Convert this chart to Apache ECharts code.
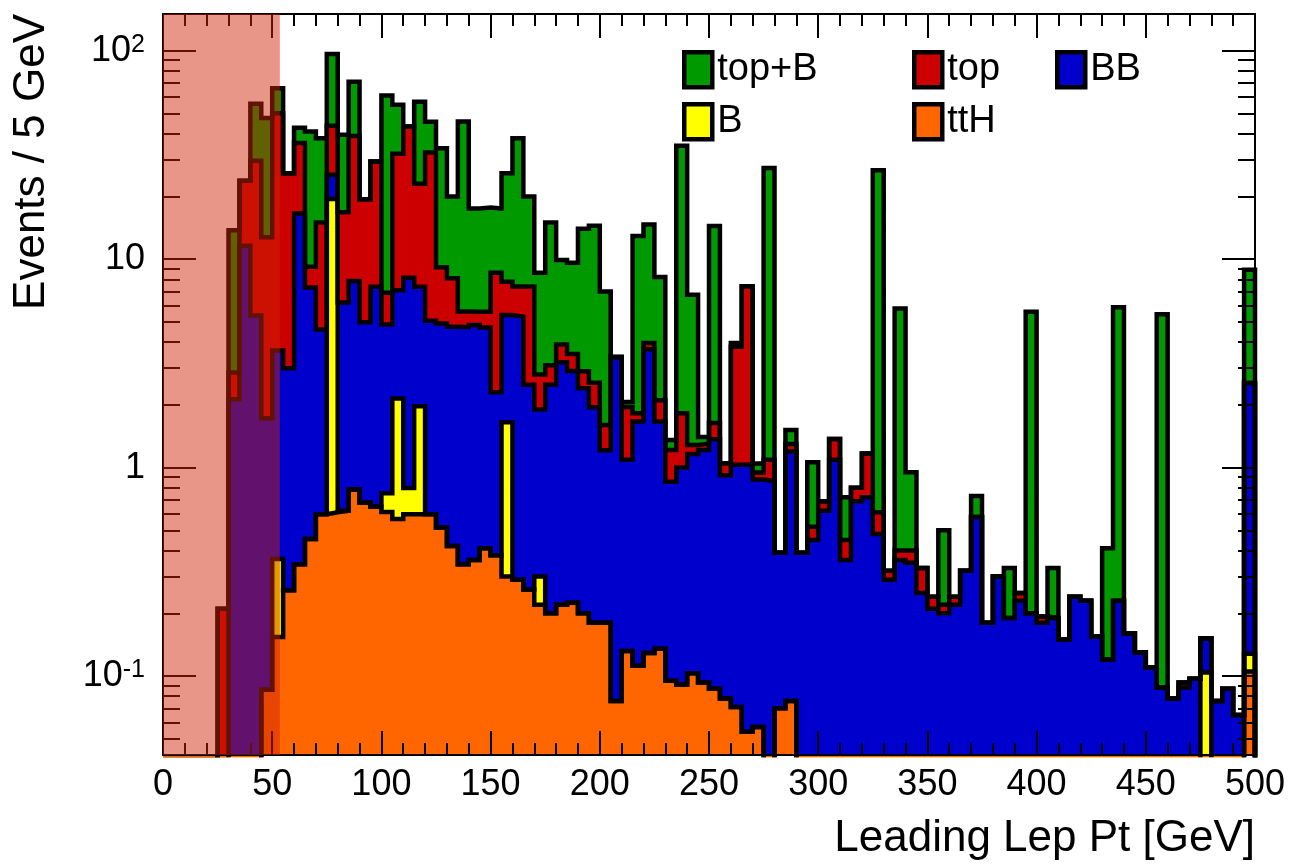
<!DOCTYPE html>
<html><head><meta charset="utf-8">
<script src="https://cdn.jsdelivr.net/npm/echarts@6/dist/echarts.min.js"></script>
<style>html,body{margin:0;padding:0;background:#fff}#c{width:1295px;height:866px}</style>
</head><body><div id="c"></div>
<script>
// ---------------- data ----------------
const NBINS = 100, BIN_WIDTH = 5;
const binLow = Array.from({length: NBINS}, (_, i) => i * BIN_WIDTH);   // bin lower edges [GeV]
const X_RANGE = [0, 500];
const Y_RANGE = [0.0418, 150];
const cutRegion = [0, 53.5];   // shaded (cut) region in GeV

const ttH = [0,0,0,0,0, 0,0,0,0,0.086,
 0.154,0.258,0.344,0.454,0.598, 0.61,0.62,0.785,0.68,0.65,
 0.613,0.566,0.598,0.598,0.598, 0.516,0.421,0.344,0.36,0.41,
 0.38,0.30,0.29,0.26,0.22, 0.20,0.22,0.225,0.20,0.18,
 0.18,0.076,0.132,0.112,0.129, 0.135,0.095,0.091,0.103,0.093,
 0.087,0.078,0.071,0.054,0.057, 0,0.07,0.076,0,0,
 0,0,0,0,0, 0,0,0,0,0,
 0,0,0,0,0, 0,0,0,0,0,
 0,0,0,0,0, 0,0,0,0,0,
 0,0,0,0,0, 0,0,0,0,0.105];

const B = [0,0,0,0,0, 0,0,0,0,0,
 0.21,0,0,0,0, 18.8,0,0,0,0,
 0.14,1.58,0.20,1.37,0, 0,0,0,0,0,
 0,1.35,0,0,0.08, 0,0,0,0,0,
 0,0,0,0,0, 0,0,0,0,0,
 0,0,0,0,0, 0,0,0,0,0,
 0,0,0,0,0, 0,0,0,0,0,
 0,0,0,0,0, 0,0,0,0,0,
 0,0,0,0,0, 0,0,0,0,0,
 0,0,0,0,0, 0.104,0,0,0,0.023];

const BB = [0,0,0,0,0, 0,2.13,11.6,5.36,1.64,
 3.28,2.74,16.2,6.85,4.0, 6.0,5.58,7.08,4.3,6.73,
 4.1,4.95,7.35,5.41,4.47, 4.4,4.32,4.37,4.47,4.29,
 1.92,3.75,5.01,2.24,1.6, 2.3,2.98,2.68,2.2,1.77,
 1.03,3.32,0.96,1.55,3.57, 1.53,0.76,0.91,1.06,1.12,
 1.28,0.84,0.96,0.98,0.82, 0.86,0.32,1.12,0.39,0.45,
 0.62,1.09,0.36,0.69,0.72, 0.48,0.29,0.36,0.35,0.25,
 0.21,0.2,0.22,0.32,0.58, 0.18,0.3,0.19,0.23,0.2,
 0.18,0.19,0.15,0.24,0.23, 0.155,0.12,0.23,0.16,0.13,
 0.11,0.088,0.078,0.088,0.097, 0.048,0.076,0.087,0.065,2.42];

const top_ = [0,0,0,0,0, 0.21,0.73,12.2,24.3,11.0,
 46.4,22.8,19.5,1.9,10.4, 18.2,10.6,31.1,14.4,22.0,
 2.04,24.9,35.2,15.6,27.4, 4.23,3.36,0.89,0.77,0.9,
 6.3,2.4,2.1,4.9,0.9, 0.6,0.7,0.6,0.5,0.6,
 0.39,0,0.86,0.16,0.26, 0.44,0.36,0.82,0.12,0.09,
 0.27,0.13,2.77,6.37,0.07, 0.23,0,0.1,0,0.07,
 0.07,0.28,0.09,0.11,0.45, 0.13,0.03,0.04,0.05,0.08,
 0.03,0.02,0.02,0,0, 0,0,0,0.02,0,
 0.013,0,0,0,0, 0,0,0,0,0,
 0,0,0,0.005,0, 0,0,0,0,0];

const topB = [0,0,0,0,0, 0,10.9,0,26.0,34.8,
 16,0,6.7,31.8,23, 52.9,22.7,32,0,0,
 54.1,23,0,34,13.2, 24.9,11.9,40.1,11.9,12.1,
 8.9,18,30.6,12.6,5.8, 11.9,6.0,6.1,11.1,11.9,
 5.4,0,0.11,11.1,10.7, 6.1,0.14,33.2,5.47,0.1,
 12.8,0,0.16,0,0.1, 26.3,0,0.22,0,0.54,
 0,0,0.27,0,0, 26.1,0,5.4,0.55,0,
 0,0.28,0,0,0.15, 0,0,0.14,0,5.4,
 0,0.14,0,0,0, 0,0.29,5.64,0,0,
 0,5.36,0,0,0, 0,0,0,0,6.35];

const xMajorTicks = [0,50,100,150,200,250,300,350,400,450,500];
const xMinorTicks = [10,20,30,40,60,70,80,90,110,120,130,140,160,170,180,190,210,220,230,240,260,270,280,290,310,320,330,340,360,370,380,390,410,420,430,440,460,470,480,490];
const yMajorTicks = [0.1, 1, 10, 100];
const yTickLabels = ['10{s|-1}', '1', '10', '10{s|2}'];
const yMinorTicks = [0.05,0.06,0.07,0.08,0.09, 0.2,0.3,0.4,0.5,0.6,0.7,0.8,0.9, 2,3,4,5,6,7,8,9, 20,30,40,50,60,70,80,90];

// stacking order, bottom to top
const stackOrder = [
  {name: 'ttH',   values: ttH,  color: '#ff6600'},
  {name: 'B',     values: B,    color: '#ffff00'},
  {name: 'BB',    values: BB,   color: '#0000cc'},
  {name: 'top',   values: top_, color: '#cc0000'},
  {name: 'top+B', values: topB, color: '#009900'}
];
const legendSlots = [
  {name: 'top+B', left: 682,  top: 50},
  {name: 'top',   left: 912,  top: 50},
  {name: 'BB',    left: 1055, top: 50},
  {name: 'B',     left: 682,  top: 102},
  {name: 'ttH',   left: 912,  top: 102}
];

// ---------------- build ----------------
const FONT = '"Liberation Sans", Arial, Helvetica, sans-serif';
const FLOOR = 1e-3;
let running = new Array(NBINS).fill(0);
const cumul = stackOrder.map(l => { running = running.map((s, i) => s + l.values[i]); return running.slice(); });

function histPoints(v) {
  const pts = [[X_RANGE[0], FLOOR]];
  for (let i = 0; i < NBINS; i++) pts.push([binLow[i], v[i] > 0 ? v[i] : FLOOR]);
  const last = v[NBINS - 1] > 0 ? v[NBINS - 1] : FLOOR;
  pts.push([X_RANGE[1], last]);
  pts.push([X_RANGE[1], FLOOR]);
  return pts;
}

const series = [];
for (let k = stackOrder.length - 1; k >= 0; k--) {
  const l = stackOrder[k];
  series.push({
    type: 'line', name: l.name, step: 'end', data: histPoints(cumul[k]),
    symbol: 'none', showSymbol: false, silent: true, clip: true, z: 2,
    color: l.color,
    itemStyle: {color: l.color},
    lineStyle: {color: '#000', width: 4.5, join: 'miter'},
    areaStyle: {color: l.color, opacity: 1}
  });
}
// shaded cut region overlay
series.push({
  type: 'line', name: 'cut', step: 'end',
  data: [[cutRegion[0], Y_RANGE[1] * 10], [cutRegion[1], Y_RANGE[1] * 10]],
  symbol: 'none', silent: true, clip: true, z: 8,
  lineStyle: {width: 0, opacity: 0},
  areaStyle: {color: 'rgba(205,35,5,0.48)', opacity: 1}
});

function xAxisDef(position, ticks, len, labels) {
  return {
    type: 'value', position, min: X_RANGE[0], max: X_RANGE[1], z: 5,
    axisLine: {show: labels !== null, onZero: false, lineStyle: {color: '#000', width: 2}},
    axisTick: {show: true, inside: true, length: len, customValues: ticks, lineStyle: {color: '#000', width: 2}},
    axisLabel: labels ? {show: true, customValues: ticks, color: '#000', fontSize: 36, fontFamily: FONT, margin: 12} : {show: false},
    splitLine: {show: false}
  };
}
function yAxisDef(position, ticks, len, labels) {
  return {
    type: 'log', logBase: 10, position, min: Y_RANGE[0], max: Y_RANGE[1], z: 5,
    axisLine: {show: labels !== null, onZero: false, lineStyle: {color: '#000', width: 2}},
    axisTick: {show: true, inside: true, length: len, customValues: ticks, lineStyle: {color: '#000', width: 2}},
    axisLabel: labels ? {
      show: true, customValues: ticks, color: '#000', fontSize: 36, fontFamily: FONT, margin: 18,
      formatter: v => yTickLabels[yMajorTicks.findIndex(t => Math.abs(Math.log10(t) - Math.log10(v)) < 1e-6)],
      rich: {s: {fontSize: 25, fontFamily: FONT, color: '#000', verticalAlign: 'top'}}
    } : {show: false},
    splitLine: {show: false}, minorSplitLine: {show: false}
  };
}

const option = {
  animation: false,
  backgroundColor: '#fff',
  grid: {left: 163, top: 14, right: 40, bottom: 111, containLabel: false},
  xAxis: [
    xAxisDef('bottom', xMajorTicks, 24, true),
    xAxisDef('bottom', xMinorTicks, 12, null),
    xAxisDef('top', xMajorTicks, 24, false),
    xAxisDef('top', xMinorTicks, 12, null)
  ],
  yAxis: [
    yAxisDef('left', yMajorTicks, 33, true),
    yAxisDef('left', yMinorTicks, 17, null),
    yAxisDef('right', yMajorTicks, 33, false),
    yAxisDef('right', yMinorTicks, 17, null)
  ],
  legend: legendSlots.map(s => {
    const l = stackOrder.find(o => o.name === s.name);
    return {
      data: [s.name], left: s.left, top: s.top, orient: 'horizontal', padding: 0,
      icon: 'rect', itemWidth: 28, itemHeight: 35, selectedMode: false,
      itemStyle: {color: l.color, borderColor: '#000', borderWidth: 4.5},
      textStyle: {color: '#000', fontSize: 38, fontFamily: FONT}
    };
  }),
  graphic: [
    {type: 'text', right: 40, top: 817, style: {text: 'Leading Lep Pt [GeV]', font: '44px ' + FONT, fill: '#000'}},
    {type: 'text', x: 32, y: 14, rotation: Math.PI / 2,
     style: {text: 'Events / 5 GeV', font: '44px ' + FONT, fill: '#000', align: 'right', verticalAlign: 'middle'}}
  ],
  series
};
const chart = echarts.init(document.getElementById('c'), null, {renderer: 'canvas'});
chart.setOption(option);
</script>
</body></html>
